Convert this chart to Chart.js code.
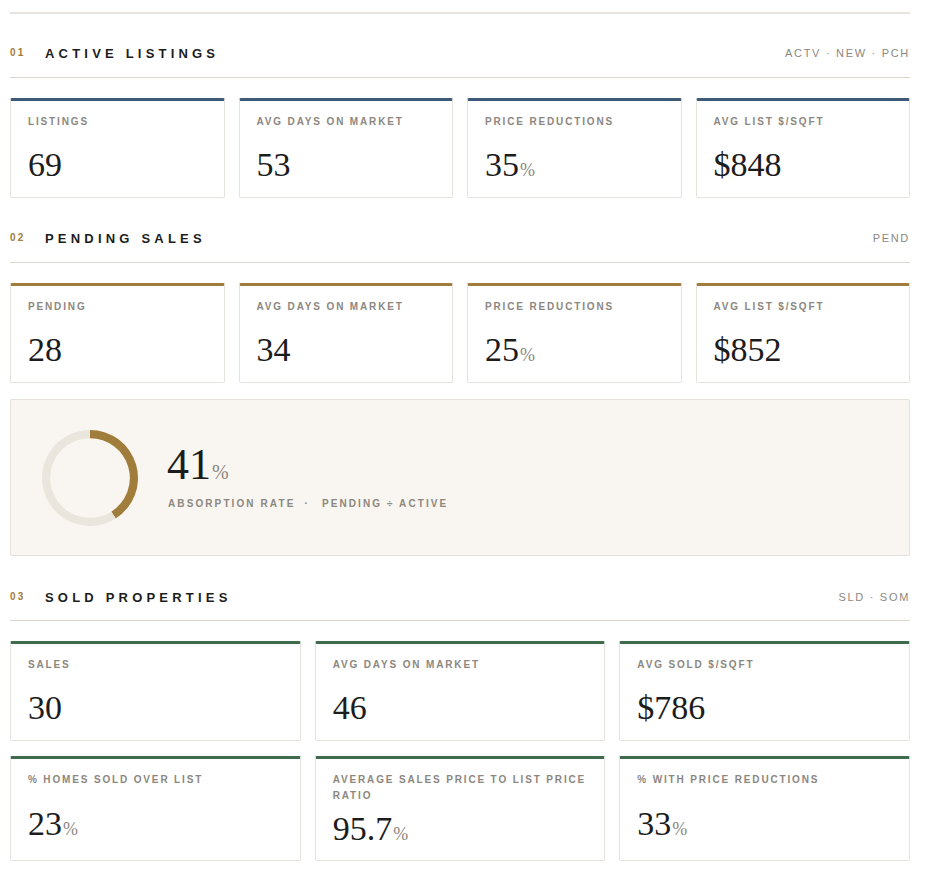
<!DOCTYPE html>
<html>
<head>
<meta charset="utf-8">
<script src="https://cdn.jsdelivr.net/npm/chart.js@4.4.1/dist/chart.umd.min.js"></script>
<style>
  html,body{margin:0;padding:0;background:#fff;}
  body{width:926px;height:884px;position:relative;overflow:hidden;font-family:"Liberation Sans",Arial,sans-serif;}
  .abs{position:absolute;}
  .rule{position:absolute;left:10px;width:900px;height:1px;background:#dcd7cd;}
  .num{position:absolute;left:10px;font-size:10px;line-height:10px;font-weight:bold;letter-spacing:2.3px;color:#a07d3a;}
  .title{position:absolute;left:45px;font-size:13px;line-height:13px;font-weight:bold;letter-spacing:4.2px;color:#1c1c1c;}
  .tag{position:absolute;right:16px;font-size:11px;line-height:11px;letter-spacing:1.7px;color:#8c877f;text-align:right;}
  .card{position:absolute;box-sizing:border-box;background:#fff;border:1px solid #e6e3de;border-top-width:3px;border-radius:2px;box-shadow:0 0 1px rgba(0,0,0,0.04);}
  .lbl{position:absolute;left:17px;top:13px;font-size:10px;line-height:16px;font-weight:bold;letter-spacing:1.85px;color:#8c877f;}
  .val{position:absolute;left:17px;font-family:"Liberation Serif","Times New Roman",serif;font-size:34px;line-height:34px;color:#1c1c1c;white-space:nowrap;}
  .val .u{font-size:18px;color:#8c877f;margin-left:1px;}
  .panel{position:absolute;left:10px;top:399px;width:900px;height:157px;box-sizing:border-box;background:#f9f6f1;border:1px solid #e6e1d8;border-radius:2px;}
</style>
</head>
<body>
<script>
// ---------- data ----------
const sectionNumbers = ['01', '02', '03'];
const sectionTitles = ['ACTIVE LISTINGS', 'PENDING SALES', 'SOLD PROPERTIES'];
const sectionTags = ['ACTV · NEW · PCH', 'PEND', 'SLD · SOM'];

const activeLabels = ['LISTINGS', 'AVG DAYS ON MARKET', 'PRICE REDUCTIONS', 'AVG LIST $/SQFT'];
const activeValues = [69, 53, 35, 848];
const activePrefix = ['', '', '', '$'];
const activeSuffix = ['', '', '%', ''];

const pendingLabels = ['PENDING', 'AVG DAYS ON MARKET', 'PRICE REDUCTIONS', 'AVG LIST $/SQFT'];
const pendingValues = [28, 34, 25, 852];
const pendingPrefix = ['', '', '', '$'];
const pendingSuffix = ['', '', '%', ''];

const absorptionRate = 41;
const absorptionLabel = 'ABSORPTION RATE';
const absorptionFormula = 'PENDING ÷ ACTIVE';

const soldLabels = ['SALES', 'AVG DAYS ON MARKET', 'AVG SOLD $/SQFT',
  '% HOMES SOLD OVER LIST', 'AVERAGE SALES PRICE TO LIST PRICE RATIO', '% WITH PRICE REDUCTIONS'];
const soldValues = [30, 46, 786, 23, 95.7, 33];
const soldPrefix = ['', '', '$', '', '', ''];
const soldSuffix = ['', '', '', '%', '%', '%'];

// ---------- layout helpers ----------
function el(cls, css, html) {
  const d = document.createElement('div');
  d.className = cls;
  Object.assign(d.style, css);
  if (html !== undefined) d.innerHTML = html;
  document.body.appendChild(d);
  return d;
}
function header(i, cy, ruleY) {
  el('num', {top: (cy - 4.9) + 'px'}, sectionNumbers[i]);
  el('title', {top: (cy - 6.4) + 'px'}, sectionTitles[i]);
  el('tag', {top: (cy - 5.4) + 'px'}, sectionTags[i]);
  el('rule', {top: ruleY + 'px'});
}
function card(x, y, w, h, color, label, value, pre, suf, valCenter) {
  const c = el('card', {left: x + 'px', top: y + 'px', width: w + 'px', height: h + 'px', borderTopColor: color});
  const l = document.createElement('div');
  l.className = 'lbl';
  l.style.width = (w - 30) + 'px';
  l.textContent = label;
  c.appendChild(l);
  const v = document.createElement('div');
  v.className = 'val';
  v.style.top = (valCenter - 3 - 17) + 'px';
  v.innerHTML = pre + value + (suf ? '<span class="u">' + suf + '</span>' : '');
  c.appendChild(v);
}

el('rule', {top: '12px', height: '2px', background: '#e6e3de'});

// Section 1
header(0, 53, 77);
const w4 = 214.5, g = 14;
activeLabels.forEach((lb, i) => card(10 + i * (w4 + g), 98, w4, 100, '#3f5a79', lb, activeValues[i], activePrefix[i], activeSuffix[i], 66.5));

// Section 2
header(1, 238, 262);
pendingLabels.forEach((lb, i) => card(10 + i * (w4 + g), 283, w4, 100, '#a07d3a', lb, pendingValues[i], pendingPrefix[i], pendingSuffix[i], 67));

// Absorption panel
el('panel', {});
const holder = el('abs', {left: '41.5px', top: '430px', width: '96px', height: '96px'});
const cv = document.createElement('canvas');
cv.width = 96; cv.height = 96;
holder.appendChild(cv);
el('abs', {left: '167px', top: '442.5px', fontFamily: '"Liberation Serif","Times New Roman",serif', fontSize: '44px', lineHeight: '44px', color: '#1c1c1c', whiteSpace: 'nowrap'},
  absorptionRate + '<span style="font-size:20px;color:#8c877f;margin-left:1px">%</span>');
el('abs', {left: '168px', top: '499px', fontSize: '10px', lineHeight: '10px', fontWeight: 'bold', letterSpacing: '2.1px', color: '#8c877f', whiteSpace: 'nowrap'},
  absorptionLabel + '<span style="margin:0 12px 0 9px">·</span>' + absorptionFormula);

new Chart(cv, {
  type: 'doughnut',
  data: {
    labels: ['Absorbed', 'Remaining'],
    datasets: [{
      data: [absorptionRate, 100 - absorptionRate],
      backgroundColor: ['#a07d3a', '#ebe6dd'],
      borderWidth: 0
    }]
  },
  options: {
    responsive: false,
    animation: false,
    cutout: '83%',
    plugins: {legend: {display: false}, tooltip: {enabled: false}}
  }
});

// Section 3
header(2, 597, 620);
const w3 = (900 - 2 * g) / 3;
soldLabels.forEach((lb, i) => {
  const row = Math.floor(i / 3), col = i % 3;
  const y = row === 0 ? 641 : 756;
  const h = row === 0 ? 100 : 105;
  let vc = row === 0 ? 67 : 67.5;
  if (lb.length > 30) vc = 72.5;
  card(10 + col * (w3 + g), y, w3, h, '#3e6a4d', lb, soldValues[i], soldPrefix[i], soldSuffix[i], vc);
});
</script>
</body>
</html>
